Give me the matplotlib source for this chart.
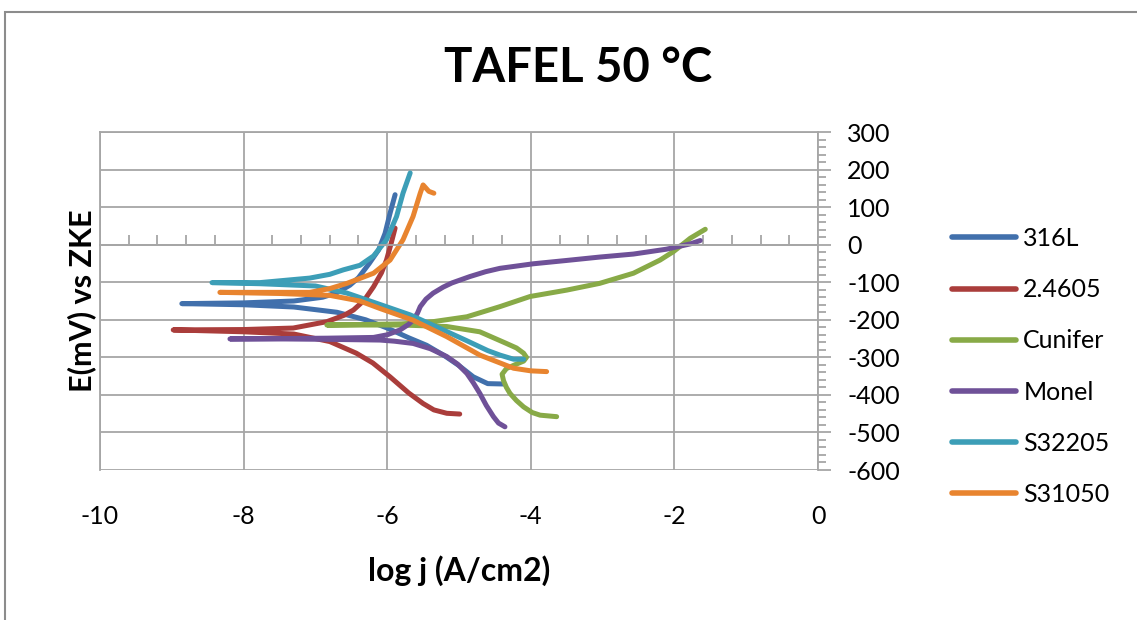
import matplotlib
matplotlib.use("Agg")
import matplotlib.pyplot as plt
from matplotlib.ticker import MultipleLocator, FixedLocator
from matplotlib.patches import Rectangle

plt.rcParams['font.family'] = ['Lato', 'DejaVu Sans']

# ---- data (log j, E) ----
series_names = ["316L", "2.4605", "Cunifer", "Monel", "S32205", "S31050"]
series_colors = ["#4170AC", "#AA3D3B", "#88AA47", "#6F5198", "#3C9EB7", "#E8842F"]

x_316L = [-4.38, -4.60, -4.80, -5.00, -5.20, -5.45, -5.70, -6.00, -6.30, -6.70, -7.30, -8.00, -8.86,
          -8.00, -7.30, -6.90, -6.70, -6.52, -6.40, -6.25, -6.12, -6.03, -5.96, -5.89]
y_316L = [-371, -370, -352, -322, -296, -268, -248, -222, -200, -180, -166, -160, -157,
          -155, -150, -140, -128, -108, -88, -50, -14, 30, 84, 133]

x_24605 = [-4.99, -5.17, -5.35, -5.50, -5.70, -5.96, -6.20, -6.43, -6.80, -7.30, -8.00, -8.98,
           -8.00, -7.31, -6.84, -6.60, -6.47, -6.32, -6.19, -6.08, -6.01, -5.95, -5.89]
y_24605 = [-451, -449, -440, -423, -395, -352, -315, -289, -258, -238, -232, -227,
           -226, -222, -205, -188, -174, -148, -112, -75, -41, 0, 44]

x_cunifer = [-3.64, -3.87, -3.98, -4.10, -4.20, -4.29, -4.34, -4.38, -4.40, -4.34, -4.20, -4.10, -4.06,
             -4.10, -4.20, -4.34, -4.71, -5.17, -5.80, -6.84,
             -5.80, -5.36, -4.89, -4.43, -4.01, -3.50, -3.04, -2.57, -2.20, -2.01, -1.78, -1.57]
y_cunifer = [-458, -454, -447, -432, -415, -396, -380, -362, -345, -330, -318, -310, -300,
             -289, -275, -263, -232, -218, -214, -214,
             -211, -205, -192, -165, -138, -121, -103, -76, -41, -18, 17, 41]

x_monel = [-4.36, -4.45, -4.52, -4.62, -4.71, -4.80, -4.89, -5.02, -5.17, -5.40, -5.64, -5.90, -6.10,
           -6.89, -7.50, -8.19,
           -7.50, -6.84, -6.19, -6.00, -5.82, -5.70, -5.64, -5.58, -5.54, -5.46, -5.36, -5.22, -5.10,
           -4.85, -4.63, -4.43, -3.97, -3.50, -3.04, -2.57, -2.11, -1.78, -1.64]
y_monel = [-485, -475, -458, -428, -396, -368, -343, -318, -298, -277, -263, -257, -254,
           -252, -251, -251,
           -250, -249, -247, -240, -227, -212, -201, -183, -165, -145, -129, -113, -102,
           -85, -72, -63, -51, -42, -33, -25, -12, 2, 11]

x_s32205 = [-4.10, -4.24, -4.43, -4.60, -4.90, -5.30, -5.68, -6.15, -6.56, -7.00, -7.77, -8.44,
            -7.77, -7.08, -6.80, -6.61, -6.38, -6.19, -6.01, -5.87, -5.78, -5.68]
y_s32205 = [-305, -305, -294, -282, -255, -220, -187, -156, -129, -110, -104, -101,
            -101, -89, -79, -67, -55, -30, 13, 75, 137, 191]

x_s31050 = [-3.78, -4.00, -4.24, -4.71, -5.17, -5.64, -6.10, -6.38, -6.80, -7.50, -8.33,
            -7.50, -7.08, -6.80, -6.56, -6.19, -5.96, -5.78, -5.64, -5.54, -5.50, -5.42, -5.35]
y_s31050 = [-338, -336, -329, -294, -245, -201, -170, -150, -135, -130, -127,
            -127, -127, -117, -103, -76, -41, 13, 75, 137, 159, 142, 137]

xs = [x_316L, x_24605, x_cunifer, x_monel, x_s32205, x_s31050]
ys = [y_316L, y_24605, y_cunifer, y_monel, y_s32205, y_s31050]

title = "TAFEL 50 °C"
xlabel = "log j (A/cm2)"
ylabel = "E(mV) vs ZKE"
x_ticks = [-10, -8, -6, -4, -2, 0]
y_ticks = [300, 200, 100, 0, -100, -200, -300, -400, -500, -600]

# ---- figure ----
W, H = 1137, 620
fig = plt.figure(figsize=(W / 100, H / 100), dpi=100)
fig.patches.append(Rectangle((5 / W, -0.1), 1.2, 1.1 - 12 / H, transform=fig.transFigure,
                             fill=False, edgecolor="#8C8C8C", lw=1.5))

ax = fig.add_axes([100 / W, 1 - 470 / H, 718 / W, 338 / H])
grid_c = "#A6A6A6"

for x, y, c, n in zip(xs, ys, series_colors, series_names):
    ax.plot(x, y, color=c, lw=3.6, label=n, solid_capstyle="round", solid_joinstyle="round")

ax.set_xlim(-10, 0)
ax.set_ylim(-600, 300)

ax.xaxis.set_major_locator(FixedLocator(x_ticks))
ax.xaxis.set_minor_locator(MultipleLocator(0.4))
ax.yaxis.set_major_locator(FixedLocator(y_ticks))
ax.yaxis.set_minor_locator(MultipleLocator(20))

ax.grid(True, which="major", color=grid_c, lw=1.3)
ax.set_axisbelow(True)

for s in ["top", "left", "right"]:
    ax.spines[s].set_color(grid_c)
    ax.spines[s].set_linewidth(1.3)
ax.spines["bottom"].set_position(("data", 0))
ax.spines["bottom"].set_color(grid_c)
ax.spines["bottom"].set_linewidth(1.3)

# x axis line at E = 0 with upward tick marks, labels at the bottom
ax.tick_params(axis="x", which="both", direction="in", colors=grid_c, labelbottom=False)
ax.tick_params(axis="x", which="major", length=0)
ax.tick_params(axis="x", which="minor", length=7, width=1.3)

sec = ax.secondary_xaxis("bottom")
sec.set_xticks(x_ticks)
sec.set_xticklabels([str(v) for v in x_ticks])
sec.tick_params(length=0, pad=25, labelsize=18, labelcolor="black")
sec.spines["bottom"].set_visible(False)
sec.set_xlabel(xlabel, fontsize=23, fontweight="bold", labelpad=20)

# y axis on the right
ax.yaxis.tick_right()
ax.yaxis.set_label_position("left")
ax.tick_params(axis="y", which="both", direction="out", colors=grid_c, labelcolor="black",
               labelsize=18, width=1.3)
ax.tick_params(axis="y", which="major", length=9, pad=12)
ax.tick_params(axis="y", which="minor", length=6)
ax.set_yticklabels([str(v) for v in y_ticks])
for lab in ax.get_yticklabels():
    lab.set_horizontalalignment("left")
ax.set_ylabel(ylabel, fontsize=22, fontweight="bold", labelpad=3)

fig.text(578 / W, 1 - 68 / H, title, ha="center", va="center", fontsize=34, fontweight="bold")

leg = fig.legend(loc="upper left", bbox_to_anchor=(942 / W, 1 - 217 / H), frameon=False,
                 fontsize=18, handlelength=2.55, handletextpad=0.3, labelspacing=1.13,
                 borderaxespad=0)
for h in leg.get_lines():
    h.set_linewidth(4)
    h.set_solid_capstyle("round")

fig.savefig("out.png", dpi=100)
